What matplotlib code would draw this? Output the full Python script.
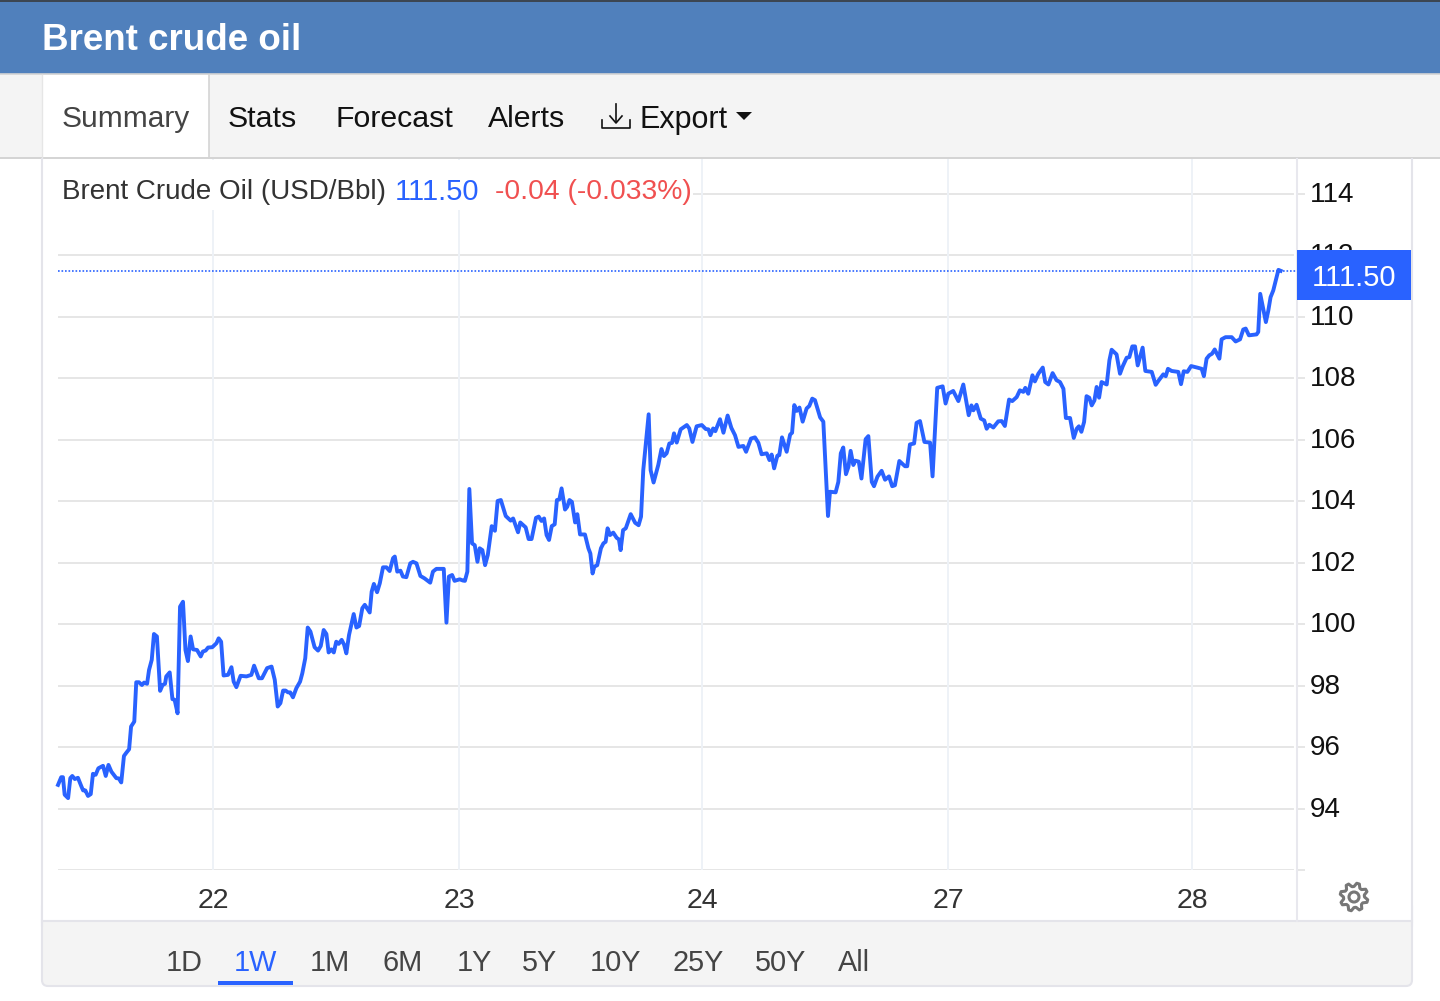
import numpy as np
import matplotlib
matplotlib.use('Agg')
from matplotlib import pyplot as plt
from matplotlib.patches import Rectangle, Polygon, Circle, FancyBboxPatch
from matplotlib.transforms import ScaledTranslation

plt.rcParams['font.family'] = ['Liberation Sans', 'DejaVu Sans']

# Data. x is the position in trading days after the "22" tick
pos_a = [-.630, -.617, -.610, -.603, -.589, -.580, -.572, -.562, -.549, -.535, -.528, -.519, -.508, -.497, -.488,
         -.477, -.466, -.447, -.436, -.425, -.413, -.393, -.383, -.373, -.362, -.352, -.341, -.333, -.320, -.312,
         -.301, -.289, -.280, -.268, -.260, -.249, -.240, -.228, -.215, -.205, -.195, -.190, -.176, -.165, -.156,
         -.144, -.134, -.122, -.112, -.102, -.091, -.081, -.065, -.050, -.041, -.030, -.020, -.003, .014, .023,
         .033, .043, .061, .075, .084, .095, .112, .136, .156, .167, .186, .199, .220, .238, .251,
         .263, .274, .285, .295, .305, .314, .325, .339, .354, .363, .375, .385, .396, .413, .427,
         .438, .450, .461, .470, .481, .491, .501, .511, .523, .533, .542, .553, .572, .583, .594,
         .607, .617, .637, .645, .654, .667, .678, .691, .705, .718, .732, .739, .749, .762, .772,
         .786, .802, .813, .827, .843, .860, .883, .894, .908, .938, .949, .959, .972, .982, 1.003, 1.016]
price_a = [94.77, 95.02, 95.02, 94.45, 94.34, 94.99, 95.06, 94.96, 95.00, 94.72, 94.59, 94.59, 94.41, 94.47, 95.13,
           95.10, 95.31, 95.39, 95.06, 95.42, 95.20, 94.99, 94.98, 94.85, 95.71, 95.82, 95.93, 96.67, 96.83, 98.11,
           98.11, 98.02, 98.10, 98.06, 98.51, 98.84, 99.68, 99.60, 97.83, 98.02, 98.06, 98.30, 98.43, 97.56, 97.54,
           97.10, 100.57, 100.73, 99.16, 98.80, 99.60, 99.18, 99.16, 98.95, 99.11, 99.14, 99.24, 99.25, 99.38, 99.54,
           99.43, 98.33, 98.35, 98.60, 98.13, 97.95, 98.32, 98.30, 98.35, 98.65, 98.24, 98.24, 98.57, 98.62, 98.19,
           97.32, 97.43, 97.84, 97.84, 97.78, 97.78, 97.62, 97.92, 98.13, 98.40, 98.89, 99.89, 99.76, 99.25, 99.14,
           99.29, 99.81, 99.68, 99.08, 99.18, 99.08, 99.43, 99.36, 99.49, 99.33, 99.05, 99.65, 100.33, 99.89, 99.94,
           100.52, 100.63, 100.38, 101.06, 101.31, 101.04, 101.33, 101.85, 101.85, 101.73, 102.15, 102.20, 101.71, 101.74, 101.55,
           101.53, 101.98, 102.03, 101.98, 101.57, 101.49, 101.35, 101.71, 101.80, 101.80, 100.05, 101.55, 101.60, 101.41, 101.46, 101.42]

pos_b = [1.024, 1.034, 1.042, 1.053, 1.064, 1.075, 1.084, 1.095, 1.106, 1.117, 1.133, 1.146, 1.157, 1.170, 1.190,
         1.210, 1.220, 1.240, 1.249, 1.271, 1.283, 1.295, 1.313, 1.324, 1.335, 1.346, 1.356, 1.366, 1.377, 1.389,
         1.398, 1.408, 1.417, 1.431, 1.440, 1.449, 1.459, 1.472, 1.481, 1.492, 1.512, 1.526, 1.534, 1.543, 1.550,
         1.562, 1.577, 1.587, 1.596, 1.604, 1.614, 1.627, 1.641, 1.650, 1.657, 1.667, 1.678, 1.698, 1.716, 1.730,
         1.740, 1.749, 1.771, 1.779, 1.791, 1.810, 1.823, 1.833, 1.844, 1.855, 1.866, 1.874, 1.885, 1.901, 1.926,
         1.936, 1.949, 1.966, 1.987, 2.003, 2.014, 2.022, 2.033, 2.042, 2.061, 2.075, 2.092, 2.107, 2.122, 2.136,
         2.156, 2.167, 2.187, 2.203, 2.217, 2.230, 2.251, 2.262, 2.271, 2.281, 2.294, 2.302, 2.313, 2.332, 2.346,
         2.354, 2.363, 2.373, 2.384, 2.397, 2.413, 2.424, 2.436, 2.447, 2.468, 2.481, 2.500, 2.508, 2.531, 2.542,
         2.552, 2.562, 2.573, 2.583, 2.592, 2.603, 2.611, 2.625, 2.636, 2.653, 2.664, 2.678, 2.687, 2.701]
price_b = [101.41, 101.71, 104.40, 102.63, 102.57, 102.03, 102.47, 102.41, 101.92, 102.25, 103.19, 103.04, 104.01, 104.04, 103.52,
           103.37, 103.44, 102.99, 103.31, 103.15, 102.77, 102.77, 103.46, 103.50, 103.36, 103.44, 102.90, 102.74, 103.19, 103.25,
           104.04, 104.06, 104.42, 103.73, 103.82, 104.04, 103.98, 103.31, 103.58, 102.92, 102.92, 102.47, 102.30, 101.65, 101.87,
           101.92, 102.47, 102.63, 102.68, 103.12, 102.90, 102.98, 102.81, 102.76, 102.41, 103.06, 103.12, 103.58, 103.30, 103.22,
           103.50, 105.01, 106.83, 105.01, 104.61, 105.18, 105.70, 105.47, 105.56, 105.88, 105.90, 106.21, 105.91, 106.34, 106.48,
           106.37, 105.93, 106.44, 106.48, 106.35, 106.34, 106.15, 106.37, 106.28, 106.67, 106.23, 106.79, 106.39, 106.15, 105.77,
           105.80, 105.61, 106.04, 106.08, 105.90, 105.53, 105.56, 105.34, 105.52, 105.07, 105.48, 105.50, 106.08, 105.61, 106.17,
           106.23, 107.13, 106.94, 107.05, 106.59, 107.02, 107.10, 107.34, 107.29, 106.73, 106.59, 103.52, 104.31, 104.29, 104.63,
           105.56, 105.75, 104.88, 105.12, 105.64, 105.18, 105.32, 105.29, 104.74, 106.02, 106.12, 104.63, 104.49, 104.80]

pos_c = [2.718, 2.732, 2.748, 2.761, 2.772, 2.790, 2.813, 2.822, 2.833, 2.850, 2.860, 2.874, 2.892, 2.915, 2.925,
         2.944, 2.966, 2.978, 2.989, 3.009, 3.030, 3.050, 3.072, 3.083, 3.091, 3.104, 3.121, 3.135, 3.145, 3.156,
         3.172, 3.192, 3.206, 3.219, 3.236, 3.249, 3.267, 3.280, 3.294, 3.302, 3.314, 3.331, 3.341, 3.355, 3.373,
         3.383, 3.396, 3.413, 3.429, 3.443, 3.457, 3.467, 3.484, 3.499, 3.511, 3.520, 3.530, 3.541, 3.551, 3.562,
         3.572, 3.583, 3.592, 3.602, 3.612, 3.633, 3.644, 3.653, 3.673, 3.687, 3.698, 3.714, 3.725, 3.737, 3.748,
         3.759, 3.779, 3.790, 3.816, 3.832, 3.845, 3.863, 3.873, 3.882, 3.897, 3.924, 3.935, 3.946, 3.961, 3.976,
         4.001, 4.019, 4.028, 4.039, 4.050, 4.061, 4.072, 4.091, 4.100, 4.116, 4.141, 4.157, 4.175, 4.188, 4.198,
         4.211, 4.242, 4.249, 4.257, 4.280, 4.290, 4.299, 4.310, 4.331, 4.340]
price_c = [104.99, 104.70, 104.81, 104.49, 104.52, 105.31, 105.14, 105.14, 105.85, 105.88, 106.55, 106.61, 105.93, 105.91, 104.81,
           107.69, 107.74, 107.18, 107.50, 107.59, 107.26, 107.80, 106.80, 107.12, 106.96, 107.14, 106.69, 106.63, 106.36, 106.49,
           106.40, 106.60, 106.61, 106.45, 107.31, 107.26, 107.39, 107.61, 107.56, 107.69, 107.50, 108.10, 107.90, 108.15, 108.35,
           107.88, 107.80, 108.17, 107.94, 107.88, 107.66, 106.71, 106.71, 106.06, 106.36, 106.44, 106.26, 106.58, 107.42, 107.37,
           107.12, 107.28, 107.72, 107.37, 107.88, 107.80, 108.59, 108.93, 108.78, 108.15, 108.39, 108.67, 108.69, 109.04, 109.04,
           108.42, 109.00, 108.24, 108.21, 107.79, 107.94, 108.13, 108.07, 108.31, 108.24, 108.21, 107.81, 108.23, 108.21, 108.40,
           108.35, 108.31, 108.07, 108.64, 108.75, 108.80, 108.94, 108.64, 109.27, 109.34, 109.34, 109.20, 109.27, 109.59, 109.62,
           109.40, 109.43, 109.51, 110.75, 109.83, 110.21, 110.64, 110.86, 111.53, 111.50]

day_ticks = [0, 1.0, 1.988, 2.988, 3.980]
day_labels = ['22', '23', '24', '27', '28']
price_ticks = [92, 94, 96, 98, 100, 102, 104, 106, 108, 110, 112, 114]
price_labels = ['', '94', '96', '98', '100', '102', '104', '106', '108', '110', '112', '114']
last_price = 111.50
tabs = ['Stats', 'Forecast', 'Alerts']
ranges = ['1D', '1W', '1M', '6M', '1Y', '5Y', '10Y', '25Y', '50Y', 'All']

BLUE = '#2962ff'
GRID = '#e6e6e6'
VGRID = '#eef2f7'
W, H = 1440, 1001


def px_axes(zorder):
    a = fig.add_axes([0, 0, 1, 1], zorder=zorder)
    a.set_xlim(0, W)
    a.set_ylim(H, 0)
    a.axis('off')
    a.patch.set_alpha(0)
    return a


fig = plt.figure(figsize=(W / 100, H / 100), dpi=100, facecolor='white')

# page chrome behind the chart
bg = px_axes(0)
bg.add_patch(Rectangle((0, 0), W, 74, color='#5080bc', lw=0))
bg.add_patch(Rectangle((0, 0), W, 1.5, color='#3c4652', lw=0))
bg.add_patch(Rectangle((0, 74), W, 85, color='#f4f4f4', lw=0))
bg.plot([0, W], [74, 74], color='#d4d4d4', lw=1.2)
bg.plot([0, W], [158, 158], color='#d4d4d4', lw=1.4)
bg.add_patch(Rectangle((42, 75), 167, 85, facecolor='white', edgecolor='none'))
bg.plot([42, 42], [158, 75], color='#e6e6e6', lw=1.0)
bg.plot([209, 209], [75, 158], color='#d4d4d4', lw=1.2)
bg.add_patch(Rectangle((42, 159), 1370, 762, facecolor='white', edgecolor='none'))
bg.add_patch(FancyBboxPatch((42, 900), 1370, 86, boxstyle='round,pad=0,rounding_size=6',
                            facecolor='#f4f4f4', edgecolor='#e4e4ea', lw=1.5))
bg.add_patch(Rectangle((43, 880), 1368, 41, facecolor='white', edgecolor='none'))
bg.plot([42, 42], [159, 925], color='#e4e4ea', lw=1.5)
bg.plot([1412, 1412], [159, 925], color='#e4e4ea', lw=1.5)
bg.plot([42, 1412], [921, 921], color='#e4e4ea', lw=1.5)
bg.plot([1297, 1297], [872, 921], color='#e8e8ee', lw=1.5)

bg.text(42, 41, 'Brent crude oil', color='white', fontsize=26.5, fontweight='bold', va='center')
bg.text(62, 119, 'Summary', color='#444444', fontsize=21.5, va='center')
for name, x in zip(tabs, [228, 335, 488]):
    bg.text(x, 119, name, color='#111111', fontsize=21.8, va='center')
bg.text(640, 120, 'Export', color='#111111', fontsize=22, va='center')
bg.plot([616, 616], [104, 122], color='#111111', lw=1.2)
bg.plot([610, 616, 622], [116, 123, 116], color='#111111', lw=1.2)
bg.plot([602, 602, 630, 630], [120, 128, 128, 120], color='#111111', lw=1.2)
bg.add_patch(Polygon([[736, 112], [752, 112], [744, 120]], color='#111111', lw=0))

for name, x in zip(ranges, [184, 255, 330, 403, 474, 540, 616, 698, 781, 854]):
    bg.text(x, 963, name, color=BLUE if name == '1W' else '#444444', fontsize=20.8, ha='center', va='center')
bg.add_patch(Rectangle((218, 981), 75, 4, color=BLUE, lw=0))

# the chart itself, y axis on the right
ax = fig.add_axes([58 / W, 1 - 870 / H, (1297 - 58) / W, (870 - 159) / H], zorder=1)
ax.patch.set_alpha(0)
ax.set_xlim(-155 / 246, 1084 / 246)
ax.set_ylim(114 - (870 - 194) / 30.75, 114 + (194 - 159) / 30.75)
for v in price_ticks:
    ax.axhline(v, xmin=0, xmax=0.9968, color=GRID, lw=1.4, zorder=1)
for d in day_ticks:
    ax.axvline(d, color=VGRID, lw=1.4, zorder=1)
ax.plot(pos_a + pos_b + pos_c, price_a + price_b + price_c, color=BLUE, lw=2.8, zorder=3,
        solid_joinstyle='round', clip_on=False)
ax.axhline(last_price, color=BLUE, lw=1.2, ls=(0, (1, 1.1)), zorder=2)

for side in ['top', 'left', 'bottom']:
    ax.spines[side].set_visible(False)
ax.spines['right'].set_color('#e8e8ee')
ax.spines['right'].set_linewidth(1.5)
ax.yaxis.tick_right()
ax.set_yticks(price_ticks, price_labels)
ax.set_xticks(day_ticks, day_labels)
ax.tick_params(axis='y', length=6, width=1.4, color=GRID, pad=3, labelsize=20, labelcolor='#111111')
ax.tick_params(axis='x', length=0, pad=13, labelsize=20.5, labelcolor='#333333')
for lab in ax.get_yticklabels():
    lab.set_verticalalignment('center')
    lab.set_transform(lab.get_transform() + ScaledTranslation(0, -1 / 100, fig.dpi_scale_trans))

# things drawn over the chart: legend strip, last price box, gear
top = px_axes(2)
top.add_patch(Rectangle((44, 160), 649, 50, facecolor='white', edgecolor='none'))
top.text(62, 192, 'Brent Crude Oil (USD/Bbl)', color='#333333', fontsize=20, va='center')
top.text(395, 192, f'{last_price:.2f}', color=BLUE, fontsize=21, va='center')
top.text(495, 192, '-0.04 (-0.033%)', color='#f05050', fontsize=20.3, va='center')

top.add_patch(Rectangle((1297, 250), 114, 50, color=BLUE, lw=0))
top.text(1312, 278, f'{last_price:.2f}', color='white', fontsize=21, va='center')

# gear icon
cx, cy = 1354, 897
angles = np.linspace(0, 2 * np.pi, 8 * 4, endpoint=False) + np.pi / 8 - np.pi / 16
radii = np.tile([14, 14, 10.5, 10.5], 8)
top.add_patch(Polygon(np.c_[cx + radii * np.cos(angles), cy + radii * np.sin(angles)], closed=True,
                      facecolor='none', edgecolor='#777777', lw=2.2, joinstyle='round'))
top.add_patch(Circle((cx, cy), 5, facecolor='none', edgecolor='#777777', lw=2.2))

fig.savefig('out.png', dpi=100)
